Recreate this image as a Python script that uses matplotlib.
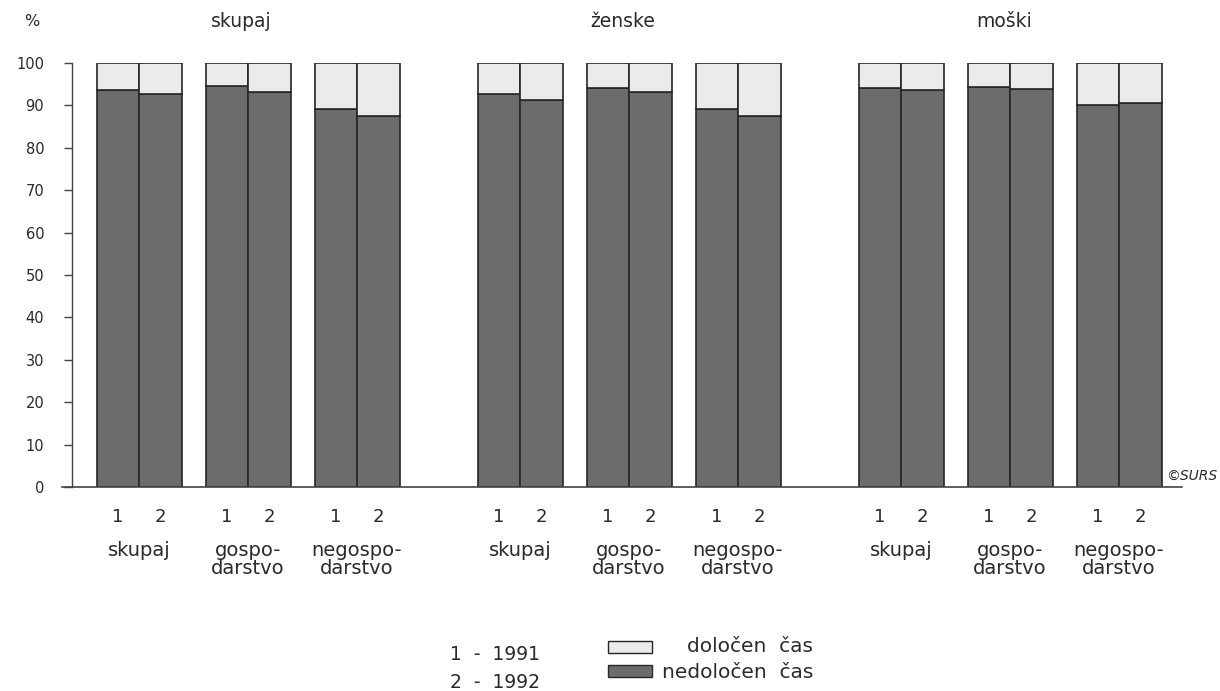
import matplotlib
matplotlib.use("Agg")
import matplotlib.pyplot as plt
from matplotlib.patches import Rectangle

plt.rcParams['font.family'] = ['DejaVu Sans']

blocks = ["skupaj", "ženske", "moški"]
groups = ["skupaj", "gospo-\ndarstvo", "negospo-\ndarstvo"]
years = ["1", "2"]
# nedoločen čas (indefinite) shares, per block x group
nedol_1991 = [93.7, 94.5, 89.1, 92.8, 94.1, 89.1, 94.1, 94.3, 90.0]
nedol_1992 = [92.8, 93.2, 87.4, 91.2, 93.2, 87.6, 93.6, 93.9, 90.6]
# določen čas (fixed-term) shares
dol_1991 = [6.3, 5.5, 10.9, 7.2, 5.9, 10.9, 5.9, 5.7, 10.0]
dol_1992 = [7.2, 6.8, 12.6, 8.8, 6.8, 12.4, 6.4, 6.1, 9.4]
yticks = [0, 10, 20, 30, 40, 50, 60, 70, 80, 90, 100]

LIGHT = "#ebebeb"
DARK = "#6c6c6c"
EDGE = "#262626"
TXT = "#2a2a2a"

W, H = 1220, 691
fig = plt.figure(figsize=(W / 100, H / 100), dpi=100)
fig.patch.set_facecolor("white")

bw = 42.5  # px per data unit
x_left_px, x_right_px = 62, 1182
y_bot_px, y_top_px = 487, 63
ax = fig.add_axes([x_left_px / W, 1 - y_bot_px / H,
                   (x_right_px - x_left_px) / W, (y_bot_px - y_top_px) / H])
ax.set_xlim((x_left_px - 139) / bw, (x_right_px - 139) / bw)
ax.set_ylim(0, 100)

group_step = 109 / bw
block_step = 381 / bw

centers = []
for b in range(len(blocks)):
    for g in range(len(groups)):
        centers.append(b * block_step + g * group_step)

xs1 = [c - 0.5 for c in centers]
xs2 = [c + 0.5 for c in centers]
kw = dict(width=1.0, edgecolor=EDGE, linewidth=1.2)
ax.bar(xs1, nedol_1991, color=DARK, **kw)
ax.bar(xs1, dol_1991, bottom=nedol_1991, color=LIGHT, **kw)
ax.bar(xs2, nedol_1992, color=DARK, **kw)
ax.bar(xs2, dol_1992, bottom=nedol_1992, color=LIGHT, **kw)

# axes styling
for s in ["top", "right"]:
    ax.spines[s].set_visible(False)
ax.spines["left"].set_position(("data", (72 - 139) / bw))
ax.spines["left"].set_bounds(0, 100)
ax.spines["left"].set_color("#444444")
ax.spines["bottom"].set_color("#444444")
ax.spines["left"].set_linewidth(1.0)
ax.spines["bottom"].set_linewidth(1.2)
ax.set_yticks(yticks)
ax.set_yticklabels([str(v) for v in yticks], fontsize=10.5, color=TXT)
ax.tick_params(axis="y", length=6, width=1.0, color="#444444", pad=14)

ticks = []
labels = []
for c in centers:
    ticks += [c - 0.5, c + 0.5]
    labels += years
ax.set_xticks(ticks)
ax.set_xticklabels(labels, fontsize=13, color=TXT)
ax.tick_params(axis="x", length=0, pad=15)

px_y = lambda py: (y_bot_px - py) / 4.24
px_x = lambda px: (px - 139) / bw

for i, c in enumerate(centers):
    ax.text(c, px_y(541), groups[i % 3], ha="center", va="top",
            fontsize=14, color=TXT, linespacing=0.95, clip_on=False)

for b, name in enumerate(blocks):
    c = centers[b * 3 + 1] - 0.15
    ax.text(c, px_y(22), name, ha="center", va="center", fontsize=13.5,
            color=TXT, clip_on=False)

ax.text(px_x(32), px_y(22), "%", ha="center", va="center", fontsize=11.5,
        color=TXT, clip_on=False)
ax.text(px_x(1217), px_y(476), "©SURS", ha="right", va="center",
        fontsize=10, style="italic", color=TXT, clip_on=False)

# legend
def fx(px):
    return px / W

def fy(py):
    return 1 - py / H

fig.text(fx(450), fy(655), "1  -  1991", ha="left", va="center",
         fontsize=13.5, color=TXT)
fig.text(fx(450), fy(682), "2  -  1992", ha="left", va="center",
         fontsize=13.5, color=TXT)
fig.patches.append(Rectangle((fx(608), fy(653)), fx(652) - fx(608),
                             fy(641) - fy(653), transform=fig.transFigure,
                             facecolor=LIGHT, edgecolor=EDGE, linewidth=1.0))
fig.patches.append(Rectangle((fx(608), fy(677)), fx(652) - fx(608),
                             fy(665) - fy(677), transform=fig.transFigure,
                             facecolor=DARK, edgecolor=EDGE, linewidth=1.0))
fig.text(fx(813), fy(647), "določen  čas", ha="right", va="center",
         fontsize=14.5, color=TXT)
fig.text(fx(813), fy(672), "nedoločen  čas", ha="right", va="center",
         fontsize=14.5, color=TXT)

fig.savefig("out.png", dpi=100, facecolor="white")
